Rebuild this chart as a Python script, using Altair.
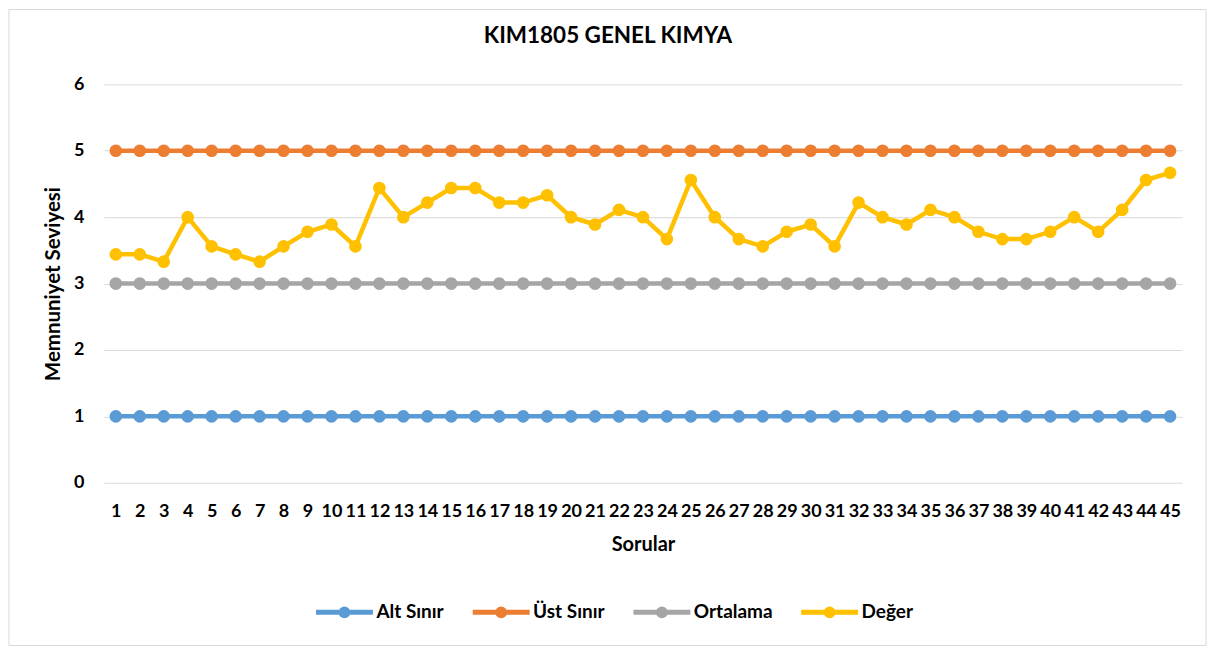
import altair as alt
import pandas as pd

questions = list(range(1, 46))
series_names = ["Alt Sınır", "Üst Sınır", "Ortalama", "Değer"]
series_colors = ["#5B9BD5", "#ED7D31", "#A5A5A5", "#FFC000"]

alt_sinir = [1] * 45
ust_sinir = [5] * 45
ortalama = [3] * 45
deger = [3.44, 3.44, 3.33, 4.00, 3.56, 3.44, 3.33, 3.56, 3.78, 3.89,
         3.56, 4.44, 4.00, 4.22, 4.44, 4.44, 4.22, 4.22, 4.33, 4.00,
         3.89, 4.11, 4.00, 3.67, 4.56, 4.00, 3.67, 3.56, 3.78, 3.89,
         3.56, 4.22, 4.00, 3.89, 4.11, 4.00, 3.78, 3.67, 3.67, 3.78,
         4.00, 3.78, 4.11, 4.56, 4.67]
y_ticks = [0, 1, 2, 3, 4, 5, 6]

title_text = "KIM1805 GENEL KIMYA"
x_title = "Sorular"
y_title = "Memnuniyet Seviyesi"

FONT = "Lato"

rows = []
for name, vals in zip(series_names, [alt_sinir, ust_sinir, ortalama, deger]):
    for q, v in zip(questions, vals):
        rows.append({"Soru": q, "Seri": name, "Deger": v})
df = pd.DataFrame(rows)

legend_path = ("M-1,0L1,0M-0.12,0A0.12,0.12,0,1,0,0.12,0"
               "A0.12,0.12,0,1,0,-0.12,0Z")

color = alt.Color(
    "Seri:N",
    scale=alt.Scale(domain=series_names, range=series_colors),
    sort=series_names,
    legend=alt.Legend(
        title=None,
        orient="none",
        legendX=210,
        legendY=497.5,
        direction="horizontal",
        symbolType=legend_path,
        symbolSize=3249,
        symbolStrokeWidth=5,
        labelFont=FONT,
        labelFontSize=19,
        labelFontWeight="bold",
        labelColor="#000000",
        labelOffset=1,
        columnPadding=18,
        padding=0,
    ),
)

x_enc = alt.X(
    "Soru:O",
    sort=questions,
    scale=alt.Scale(type="point", padding=0.5),
    axis=alt.Axis(
        title=x_title,
        labelAngle=0,
        labelFont=FONT,
        labelFontSize=18,
        labelFontWeight="bold",
        labelColor="#000000",
        labelPadding=20,
        titleFont=FONT,
        titleFontSize=20,
        titleFontWeight="bold",
        titleColor="#000000",
        titlePadding=14,
        grid=False,
        domain=False,
        ticks=False,
    ),
)
y_enc = alt.Y(
    "Deger:Q",
    scale=alt.Scale(domain=[0, 6], nice=False, zero=True),
    axis=alt.Axis(
        title=y_title,
        values=y_ticks,
        labelFont=FONT,
        labelFontSize=18,
        labelFontWeight="bold",
        labelColor="#000000",
        labelPadding=20,
        titleFont=FONT,
        titleFontSize=20.5,
        titleFontWeight="bold",
        titleColor="#000000",
        titlePadding=10,
        grid=True,
        gridColor="#D9D9D9",
        gridWidth=1,
        domain=False,
        ticks=False,
    ),
)

base = alt.Chart(df)
lines = base.mark_line(strokeWidth=4.5).encode(
    x=x_enc, y=y_enc, color=color, order="Soru:Q"
)
points = base.mark_point(filled=True, size=160, opacity=1).encode(
    x=x_enc, y=y_enc, color=color
)

frame = alt.Chart(pd.DataFrame({"a": [1]})).mark_rect(
    fill="white", fillOpacity=0, stroke="#D9D9D9", strokeWidth=1
).encode(
    x=alt.value(-95), x2=alt.value(1104), y=alt.value(-75), y2=alt.value(562)
)

title = alt.Chart(pd.DataFrame({"t": [title_text]})).mark_text(
    font=FONT, fontSize=22.5, fontWeight="bold", color="#000000",
    align="center", baseline="middle"
).encode(
    text="t:N", x=alt.value(505), y=alt.value(-48)
)

chart = alt.layer(frame, lines, points, title).properties(
    width=1080, height=399, padding=0, background="white"
).configure_view(stroke=None)

chart.save("out.html", embed_options={"renderer": "svg", "actions": False})
